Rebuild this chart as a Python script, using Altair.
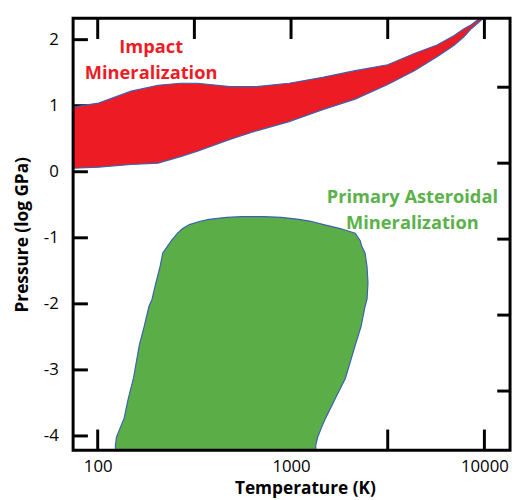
import altair as alt
import pandas as pd

# ---------------- data ----------------
# Impact mineralization band: temperature (K) with lower / upper pressure (log GPa)
red_T = [71, 101, 149, 205, 268, 328, 483, 663, 977, 1457, 2146, 3162, 4343, 5690, 6948, 7814, 8585, 9320, 10118]
red_hi = [0.97, 1.04, 1.22, 1.31, 1.34, 1.34, 1.29, 1.29, 1.34, 1.43, 1.53, 1.62, 1.79, 1.92, 2.06, 2.16, 2.23, 2.31, 2.37]
red_lo = [0.05, 0.07, 0.11, 0.13, 0.23, 0.31, 0.49, 0.62, 0.76, 0.94, 1.10, 1.32, 1.53, 1.74, 1.91, 2.04, 2.17, 2.26, 2.35]

# Primary asteroidal mineralization region: pressure (log GPa) with left / right temperature (K)
green_P = [-0.68, -0.69, -0.72, -0.75, -0.80, -0.86, -0.93, -1.04, -1.14, -1.23, -1.44, -1.68,
           -1.93, -2.04, -2.34, -2.63, -3.13, -3.43, -3.73, -3.87, -4.02, -4.14, -4.30]
green_left = [556, 466, 377, 339, 298, 275, 259, 241, 228, 217, 210, 200,
              191, 184, 174, 164, 153, 144, 137, 131, 125, 123.5, 123.5]
green_right = [728, 889, 1099, 1265, 1474, 1799, 2146, 2276, 2330, 2414, 2472, 2500,
               2472, 2414, 2303, 2146, 1909, 1697, 1509, 1439, 1373, 1342, 1342]

# annotations
ann_text = ["Impact", "Mineralization", "Primary Asteroidal", "Mineralization"]
ann_T = [189, 189, 4242, 4242]
ann_P = [1.80, 1.40, -0.48, -0.86]
ann_color = ["#ED1C24", "#ED1C24", "#5BB14A", "#5BB14A"]

# ticks
x_ticks = [100, 316.23, 1000, 3162.28, 10000]
x_labeled = [100, 1000, 10000]
y_ticks = [-4, -3, -2, -1, 0, 1, 2]
right_ticks = [1.28, 0.13, -1.02, -2.17, -3.32]   # unlabeled right-hand ticks (log GPa positions)

# ---------------- chart ----------------
W, H = 443, 438
FONT = "Open Sans"
RED = "#ED1C24"
GREEN = "#5BAE47"
EDGE = "#3A62B0"

x_scale = alt.Scale(type="log", domain=[74.6, 13575], nice=False)
y_scale = alt.Scale(domain=[-4.217, 2.324], nice=False, zero=False)

label_cond = " || ".join(f"datum.value == {v}" for v in x_labeled)

common = dict(domain=False, grid=False, ticks=False, tickSize=0,
              labelFont=FONT, labelFontSize=17, labelColor="black",
              titleFont=FONT, titleFontSize=17.5, titleFontWeight="bold", titleColor="black")

bottom_axis = alt.Axis(orient="bottom", values=x_ticks, labelExpr=f"({label_cond}) ? '' + datum.value : ''",
                       labelPadding=9, labelFlush=False, labelOverlap=False,
                       title="Temperature (K)", titlePadding=5, titleX=235, **common)
left_axis = alt.Axis(orient="left", values=y_ticks, labelExpr="'' + datum.value",
                     labelPadding=15, title="Pressure (log GPa)", titlePadding=12, **common)

red_df = pd.DataFrame({"T": red_T, "lo": red_lo, "hi": red_hi})
green_df = pd.DataFrame({"P": green_P, "Tl": green_left, "Tr": green_right})
ann_df = pd.DataFrame({"label": ann_text, "T": ann_T, "P": ann_P, "color": ann_color})
xt_df = pd.DataFrame({"t": x_ticks})
yt_df = pd.DataFrame({"p": y_ticks})
rt_df = pd.DataFrame({"p": right_ticks})
frame_df = pd.DataFrame({"k": [0]})

tick_mark = dict(color="black", strokeWidth=3)
tick_bottom = alt.Chart(xt_df).mark_rule(**tick_mark).encode(
    x=alt.X("t:Q", scale=x_scale), y=alt.value(H), y2=alt.value(H - 21))
tick_top = alt.Chart(xt_df).mark_rule(**tick_mark).encode(
    x=alt.X("t:Q", scale=x_scale), y=alt.value(0), y2=alt.value(21))
tick_left = alt.Chart(yt_df).mark_rule(**tick_mark).encode(
    y=alt.Y("p:Q", scale=y_scale), x=alt.value(0), x2=alt.value(15))
tick_right = alt.Chart(rt_df).mark_rule(**tick_mark).encode(
    y=alt.Y("p:Q", scale=y_scale), x=alt.value(W - 13), x2=alt.value(W))

red = alt.Chart(red_df).mark_area(fill=RED, stroke=EDGE, strokeWidth=1.2, clip=True).encode(
    x=alt.X("T:Q", scale=x_scale, axis=bottom_axis),
    y=alt.Y("lo:Q", scale=y_scale, axis=left_axis),
    y2="hi:Q",
)

green = alt.Chart(green_df).mark_area(orient="horizontal", fill=GREEN, stroke=EDGE, strokeWidth=1.2, clip=True).encode(
    y=alt.Y("P:Q", scale=y_scale),
    x=alt.X("Tl:Q", scale=x_scale),
    x2="Tr:Q",
)

text = alt.Chart(ann_df).mark_text(font=FONT, fontSize=18.5, fontWeight="bold",
                                   baseline="alphabetic", align="center").encode(
    x=alt.X("T:Q", scale=x_scale),
    y=alt.Y("P:Q", scale=y_scale),
    text="label:N",
    color=alt.Color("color:N", scale=None),
)

frame = alt.Chart(frame_df).mark_rect(filled=False, stroke="black", strokeWidth=3).encode(
    x=alt.value(0), x2=alt.value(W), y=alt.value(0), y2=alt.value(H)
)

chart = alt.layer(tick_bottom, tick_top, tick_left, tick_right, red, green, text, frame).properties(
    width=W, height=H,
    autosize=alt.AutoSizeParams(type="none"),
    padding={"left": 66, "top": 7, "right": 4, "bottom": 47},
).configure_view(stroke="transparent")

chart.save("out.html", embed_options={"renderer": "svg", "actions": False})
